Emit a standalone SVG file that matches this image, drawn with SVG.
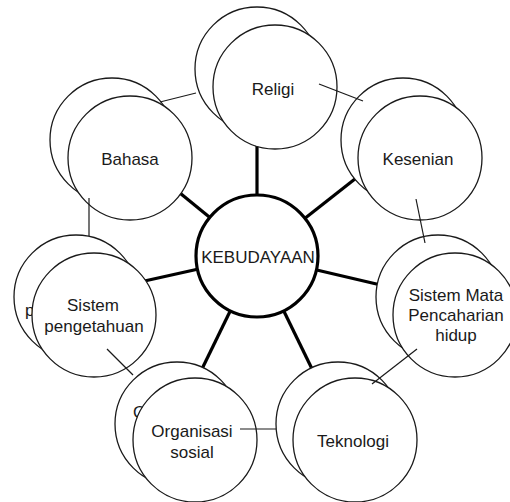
<svg xmlns="http://www.w3.org/2000/svg" width="510" height="502" viewBox="0 0 510 502">
  <style>
    .bg { fill: #ffffff; }
    .ring { fill: #ffffff; stroke: #1a1a1a; stroke-width: 1.3; }
    .hub { fill: #ffffff; stroke: #000000; stroke-width: 3.2; }
    .spoke { stroke: #000000; stroke-width: 3.2; stroke-linecap: butt; fill: none; }
    .link { stroke: #1a1a1a; stroke-width: 1.2; fill: none; }
    text { font-family: "Liberation Sans", Arial, Helvetica, sans-serif; font-size: 17px; fill: #1a1a1a; text-anchor: middle; }
    .ghost { text-anchor: start; }
  </style>
  <rect class="bg" x="0" y="0" width="510" height="502"/>

  <!-- thick spokes from the hub, drawn beneath the circles -->
  <g id="spokes">
    <line class="spoke" x1="257" y1="256" x2="257" y2="140"/>
    <line class="spoke" x1="257" y1="256" x2="175" y2="189"/>
    <line class="spoke" x1="257" y1="256" x2="360" y2="175"/>
    <line class="spoke" x1="257" y1="256" x2="140" y2="282"/>
    <line class="spoke" x1="257" y1="256" x2="385" y2="286"/>
    <line class="spoke" x1="257" y1="256" x2="200" y2="373"/>
    <line class="spoke" x1="257" y1="256" x2="314" y2="373"/>
  </g>

  <g id="node-religi">
    <circle class="ring" cx="257" cy="69" r="62"/>
    <circle class="ring" cx="275" cy="87" r="62"/>
    <text x="273" y="95">Religi</text>
  </g>

  <g id="node-bahasa">
    <circle class="ring" cx="112" cy="140" r="62"/>
    <circle class="ring" cx="130" cy="158" r="62"/>
    <text x="130" y="165">Bahasa</text>
  </g>

  <g id="node-kesenian">
    <circle class="ring" cx="403" cy="140" r="62"/>
    <circle class="ring" cx="420" cy="158" r="62"/>
    <text x="418" y="165">Kesenian</text>
  </g>

  <g id="node-sistem-pengetahuan">
    <circle class="ring" cx="76" cy="297" r="62"/>
    <text class="ghost" x="25" y="316">p</text>
    <circle class="ring" cx="94" cy="315" r="62"/>
    <text x="93" y="311">Sistem</text>
    <text x="94" y="332">pengetahuan</text>
  </g>

  <g id="node-sistem-mata-pencaharian">
    <circle class="ring" cx="438" cy="297" r="62"/>
    <circle class="ring" cx="455" cy="315" r="62"/>
    <text x="456" y="301">Sistem Mata</text>
    <text x="456" y="321">Pencaharian</text>
    <text x="456" y="341">hidup</text>
  </g>

  <g id="node-organisasi-sosial">
    <circle class="ring" cx="177" cy="424" r="62"/>
    <text class="ghost" x="133" y="418">O</text>
    <circle class="ring" cx="195" cy="440" r="62"/>
    <text x="192" y="437">Organisasi</text>
    <text x="192" y="458">sosial</text>
  </g>

  <g id="node-teknologi">
    <circle class="ring" cx="338" cy="424" r="62"/>
    <circle class="ring" cx="355" cy="440" r="62"/>
    <text x="353" y="447">Teknologi</text>
  </g>

  <g id="node-kebudayaan">
    <circle class="hub" cx="257" cy="256" r="61"/>
    <text x="258" y="263">KEBUDAYAAN</text>
  </g>

  <!-- thin links around the outer ring, drawn over the circles -->
  <g id="links">
    <line class="link" x1="160" y1="102" x2="196" y2="93"/>
    <line class="link" x1="319" y1="84" x2="363" y2="101"/>
    <line class="link" x1="416" y1="199" x2="425" y2="243"/>
    <line class="link" x1="89" y1="198" x2="89" y2="236"/>
    <line class="link" x1="107" y1="349" x2="133" y2="375"/>
    <line class="link" x1="240" y1="429" x2="276" y2="429"/>
    <line class="link" x1="372" y1="384" x2="417" y2="349"/>
  </g>
</svg>
